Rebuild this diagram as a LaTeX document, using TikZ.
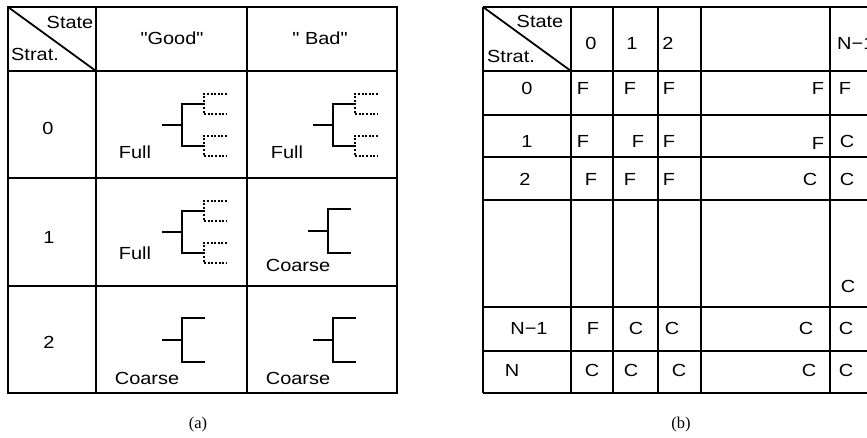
\documentclass[tikz,border=0pt]{standalone}
\usepackage{fontspec}
\setmainfont{Liberation Sans}[FakeStretch=1.14, Ligatures=TeXOff]
\newfontfamily\capfont{Liberation Serif}
\begin{document}
\begin{tikzpicture}[x=1pt,y=-1pt,
  grid/.style={line width=1.8pt},
  tree/.style={line width=2.6pt},
  sub/.style={line width=1.6pt, dash pattern=on 2pt off 1.6pt},
  lbl/.style={font=\fontsize{17.5}{19}\selectfont, inner sep=0pt},
  captext/.style={font=\capfont\fontsize{16.5}{18}\selectfont, inner sep=0pt},
  fulltree/.pic={
    \draw[tree] (0,0) -- (20,0) (41,-21) -- (20,-21) -- (20,21) -- (41,21);
    \foreach \s in {-21,21}
      \draw[sub] (65,\s-10) -- (42,\s-10) -- (42,\s+10) -- (65,\s+10);
  },
  coarsetree/.pic={
    \draw[tree] (0,0) -- (20,0) (43,-22) -- (20,-22) -- (20,22) -- (43,22);
  }]
\useasboundingbox (0,0) rectangle (867,437);
\clip (0,0) rectangle (867,437);

% ---------- table (a) ----------
\draw[grid] (8,7) rectangle (397,393);
\foreach \x in {96,247} \draw[grid] (\x,7) -- (\x,393);
\foreach \y in {71,178,286} \draw[grid] (8,\y) -- (397,\y);
\draw[grid] (8,7) -- (96,71);

\node[lbl] (aState) at (70,22) {State};
\node[lbl] (aStrat) at (35,54) {Strat.};
\node[lbl] (aGood) at (172,38) {"Good"};
\node[lbl] (aBad) at (320,38) {" Bad"};
\node[lbl] (ar0) at (48,128) {0};
\node[lbl] (ar1) at (49,237) {1};
\node[lbl] (ar2) at (49,342) {2};

\pic at (162,125) {fulltree};
\pic at (162,232) {fulltree};
\pic at (162,340) {coarsetree};
\pic at (313,125) {fulltree};
\pic at (308,231) {coarsetree};
\pic at (313,340) {coarsetree};

\node[lbl] (gF0) at (135,152) {Full};
\node[lbl] (gF1) at (135,253) {Full};
\node[lbl] (gC2) at (147,378) {Coarse};
\node[lbl] (bF0) at (287,152) {Full};
\node[lbl] (bC1) at (298,265) {Coarse};
\node[lbl] (bC2) at (298,378) {Coarse};

\node[captext] (capa) at (198,425) {(a)};

% ---------- table (b) ----------
\foreach \y in {7,71,115,157,200,307,351,393} \draw[grid] (483,\y) -- (885,\y);
\foreach \x in {483,571,613,658,701,830} \draw[grid] (\x,7) -- (\x,393);
\draw[grid] (483,7) -- (571,71);

\node[lbl] (bState) at (540,21) {State};
\node[lbl] (bStrat) at (511,56) {Strat.};
\node[lbl] (h0) at (591,43) {0};
\node[lbl] (h1) at (632,43) {1};
\node[lbl] (h2) at (668,43) {2};
\node[lbl, anchor=west] (hN1) at (837,43) {N−1};

\node[lbl] (r0) at (527,88) {0};
\node[lbl] (r1) at (527,141) {1};
\node[lbl] (r2) at (525,179) {2};
\node[lbl] (rN1) at (529,328) {N−1};
\node[lbl] (rN) at (512,370) {N};

% row 0
\node[lbl] (c00) at (583,88) {F};
\node[lbl] (c01) at (630,88) {F};
\node[lbl] (c02) at (669,88) {F};
\node[lbl] (c03) at (818,88) {F};
\node[lbl] (c04) at (845,88) {F};
% row 1
\node[lbl] (c10) at (583,141) {F};
\node[lbl] (c11) at (638,141) {F};
\node[lbl] (c12) at (669,141) {F};
\node[lbl] (c13) at (818,143) {F};
\node[lbl] (c14) at (847,141) {C};
% row 2
\node[lbl] (c20) at (591,179) {F};
\node[lbl] (c21) at (630,179) {F};
\node[lbl] (c22) at (669,179) {F};
\node[lbl] (c23) at (810,179) {C};
\node[lbl] (c24) at (847,179) {C};
% gap row
\node[lbl] (c34) at (848,286) {C};
% row N-1
\node[lbl] (c40) at (593,328) {F};
\node[lbl] (c41) at (636,328) {C};
\node[lbl] (c42) at (672,328) {C};
\node[lbl] (c43) at (806,328) {C};
\node[lbl] (c44) at (846,328) {C};
% row N
\node[lbl] (c50) at (592,370) {C};
\node[lbl] (c51) at (631,370) {C};
\node[lbl] (c52) at (679,370) {C};
\node[lbl] (c53) at (809,370) {C};
\node[lbl] (c54) at (846,370) {C};

\node[captext] (capb) at (681,425) {(b)};
\end{tikzpicture}
\end{document}
